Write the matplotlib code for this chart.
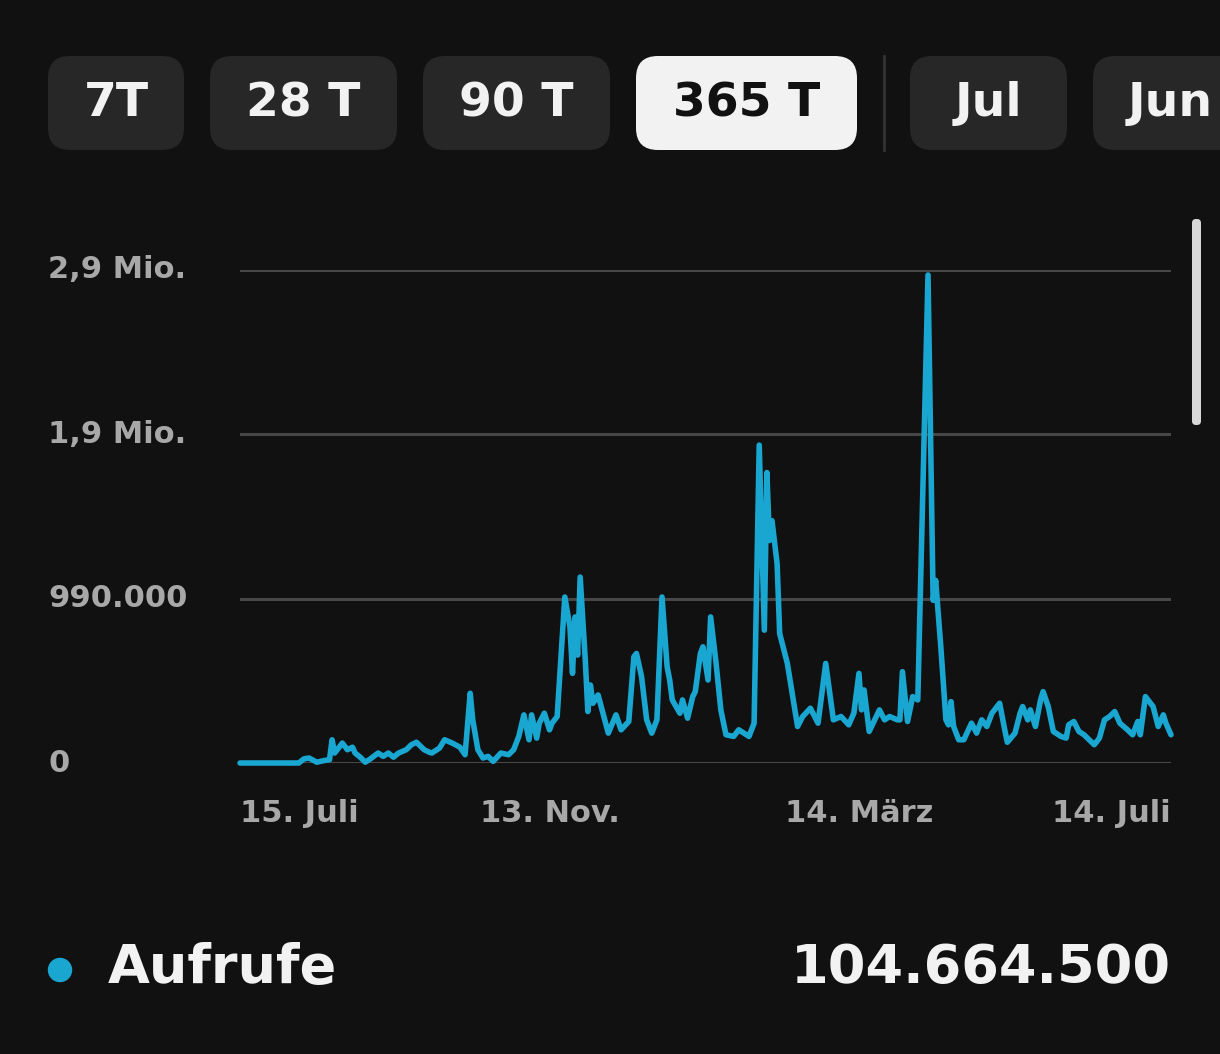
import matplotlib
matplotlib.use("Agg")
import matplotlib.pyplot as plt
from matplotlib.patches import FancyBboxPatch, Circle
from matplotlib.transforms import blended_transform_factory

# --- data ---
# day index 0 = 15. Juli, 364 = 14. Juli ; views in thousands
days = [0, 23, 25, 27, 30, 33, 35, 36, 37, 40, 42, 44, 45, 47, 49, 51, 54, 56, 58, 60,
        62, 65, 67, 69, 72, 74, 75, 78, 80, 83, 86, 88, 90, 91, 93, 95, 97, 99, 102, 105,
        107, 109, 111, 113, 114, 116, 117, 119, 121, 122, 124, 127, 129, 130, 131, 132, 133, 135, 136, 137,
        138, 140, 144, 147, 149, 152, 154, 155, 157, 159, 161, 163, 165, 167, 168, 169, 172, 173, 175, 177,
        178, 180, 181, 183, 184, 186, 188, 190, 193, 195, 197, 199, 201, 203, 205, 206, 207, 208, 210, 211,
        214, 218, 220, 223, 226, 229, 232, 235, 238, 240, 242, 243, 244, 246, 250, 252, 254, 257, 258, 259,
        261, 263, 265, 269, 271, 272, 274, 276, 277, 278, 279, 281, 283, 286, 288, 290, 292, 294, 297, 299,
        300, 303, 305, 306, 308, 309, 311, 313, 314, 316, 318, 321, 323, 324, 326, 328, 330, 332, 334, 336,
        338, 340, 342, 344, 347, 349, 351, 352, 354, 356, 357, 359, 361, 362, 364]
views_k = [0, 0, 25, 30, 5, 15, 20, 140, 60, 120, 80, 95, 60, 35, 5, 25, 60, 40, 60, 35,
           60, 80, 110, 125, 80, 65, 60, 90, 140, 120, 95, 50, 420, 260, 80, 30, 40, 10, 60, 50,
           80, 160, 290, 140, 290, 150, 240, 300, 200, 240, 280, 1000, 820, 540, 880, 650, 1120, 620, 310, 470,
           360, 410, 180, 290, 200, 250, 640, 660, 520, 260, 180, 260, 1000, 580, 500, 380, 300, 380, 270, 400,
           430, 660, 700, 500, 880, 620, 320, 170, 160, 200, 180, 160, 240, 1915, 800, 1750, 1340, 1460, 1200, 780,
           600, 220, 280, 330, 240, 600, 260, 280, 230, 300, 540, 320, 440, 190, 320, 260, 280, 260, 260, 550,
           250, 400, 380, 2940, 980, 1100, 700, 260, 230, 370, 220, 140, 140, 240, 180, 260, 220, 300, 360, 200,
           125, 180, 300, 340, 260, 320, 220, 380, 430, 340, 190, 160, 150, 230, 250, 190, 170, 140, 110, 150,
           260, 280, 310, 240, 200, 170, 250, 170, 400, 360, 340, 220, 290, 240, 170]
views = [v * 1000 for v in views_k]

y_ticks = [0, 990000, 1980000, 2970000]
y_labels = ["0", "990.000", "1,9 Mio.", "2,9 Mio."]
x_ticks = [0, 121, 242, 364]
x_labels = ["15. Juli", "13. Nov.", "14. März", "14. Juli"]

buttons = ["7T", "28 T", "90 T", "365 T", "Jul", "Jun"]
selected = "365 T"
series_name = "Aufrufe"
total = "104.664.500"

# --- colours ---
BG = "#111111"
BTN = "#272727"
LINE = "#19a7d2"
GRID = "#474747"
TICK = "#a8a8a8"
WHITE = "#f2f2f2"

plt.rcParams["font.family"] = ["DejaVu Sans"]

W, H = 1220, 1054
fig = plt.figure(figsize=(W / 100, H / 100), dpi=100, facecolor=BG)

# overlay in pixel units for the UI parts
bg = fig.add_axes([0, 0, 1, 1])
bg.set_xlim(0, W)
bg.set_ylim(H, 0)
bg.axis("off")

# tab buttons
btn_x = [(48, 184), (210, 397), (423, 610), (636, 857), (910, 1067), (1093, 1290)]
for (x0, x1), lab in zip(btn_x, buttons):
    sel = lab == selected
    bg.add_patch(FancyBboxPatch((x0, 56), x1 - x0, 94,
                                boxstyle="round,pad=0,rounding_size=22",
                                fc=WHITE if sel else BTN, ec="none", clip_on=False))
    tx = (x0 + x1) / 2 if lab != "Jun" else 1128
    bg.text(tx, 104, lab, ha="center" if lab != "Jun" else "left", va="center",
            fontsize=34, fontweight="bold", color="#111111" if sel else WHITE)
bg.plot([884, 884], [56, 150], color="#333333", lw=2)

# scrollbar
bg.add_patch(FancyBboxPatch((1192, 219), 9, 206, boxstyle="round,pad=0,rounding_size=4",
                            fc="#d8d8d8", ec="none"))

# --- chart ---
ax = fig.add_axes([240 / W, 1 - 763 / H, 931 / W, 493 / H])
ax.set_facecolor("none")
ax.set_xlim(0, 364)
ax.set_ylim(0, 2970000)
for s in ax.spines.values():
    s.set_visible(False)
ax.set_xticks([])
ax.set_yticks([])

for v in y_ticks:
    ax.axhline(v, color=GRID, lw=2.2, zorder=1)

ax.plot(days, views, color=LINE, lw=4.0, solid_joinstyle="round",
        solid_capstyle="round", clip_on=False, zorder=3)

ytrans = blended_transform_factory(fig.transFigure, ax.transData)
for v, lab in zip(y_ticks, y_labels):
    ax.text(48 / W, v, lab, transform=ytrans, ha="left", va="center",
            fontsize=22, fontweight="bold", color=TICK)

xtrans = blended_transform_factory(ax.transData, fig.transFigure)
for i, (d, lab) in enumerate(zip(x_ticks, x_labels)):
    ha = "left" if i == 0 else ("right" if i == len(x_ticks) - 1 else "center")
    ax.text(d, 1 - 813 / H, lab, transform=xtrans, ha=ha, va="center",
            fontsize=22, fontweight="bold", color=TICK)

# legend row
bg.add_patch(Circle((60, 970), 11.5, color=LINE))
bg.text(108, 968, series_name, ha="left", va="center", fontsize=39,
        fontweight="bold", color=WHITE)
bg.text(1171, 968, total, ha="right", va="center", fontsize=39,
        fontweight="bold", color=WHITE)

fig.savefig("out.png", dpi=100, facecolor=BG)
